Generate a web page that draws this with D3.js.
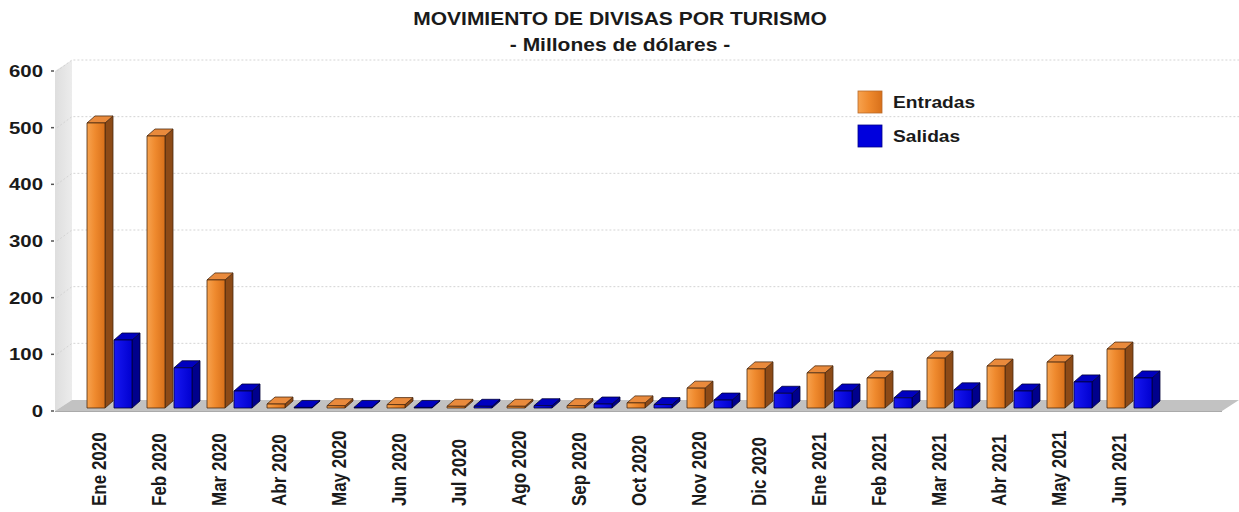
<!DOCTYPE html>
<html>
<head>
<meta charset="utf-8">
<script src="https://cdn.jsdelivr.net/npm/d3@7/dist/d3.min.js"></script>
<style>
  html, body { margin: 0; padding: 0; background: #fff; }
  svg { display: block; }
  text { font-family: "Liberation Sans", Arial, sans-serif; font-weight: bold; fill: #1a1a1a; }
</style>
</head>
<body>
<svg id="chart" width="1239" height="512"></svg>
<script>
// Monthly tourism currency flows, millions of dollars
const months = ["Ene 2020","Feb 2020","Mar 2020","Abr 2020","May 2020","Jun 2020","Jul 2020",
  "Ago 2020","Sep 2020","Oct 2020","Nov 2020","Dic 2020","Ene 2021","Feb 2021","Mar 2021",
  "Abr 2021","May 2021","Jun 2021"];
const entradas = [503, 480, 226, 7, 4, 6, 3, 3, 4, 9, 35, 69, 62, 53, 88, 74, 81, 104];
const salidas  = [120, 71, 30, 1, 1, 1, 3, 4, 7, 6, 14, 26, 30, 18, 32, 30, 46, 53];
const seriesNames = ["Entradas", "Salidas"];
const yTicks = [0, 100, 200, 300, 400, 500, 600];
const titleLines = ["MOVIMIENTO DE DIVISAS POR TURISMO", "- Millones de dólares -"];

const svg = d3.select("#chart");
const SX = 1.2;              // horizontal text stretch
const wall = {dx: 17, dy: -11};
const barDepth = {dx: 8, dy: -7};

// scales: front axis plane, back wall plane, bar front plane
const yFront = d3.scaleLinear().domain([0, 600]).range([411, 71]);
const yBack  = d3.scaleLinear().domain([0, 600]).range([411 + wall.dy, 71 + wall.dy]);
const yBar   = d3.scaleLinear().domain([0, 600]).range([408, 68]);
const x0 = d3.scaleBand().domain(months).range([72, 72 + 60 * months.length]);
const x1 = d3.scaleBand().domain(seriesNames).range([15, 60]).paddingInner(1/3);

const axisLeft = 55, plotRight = 1222;

// gradients
const defs = svg.append("defs");
function lin(id, stops, x2 = "100%", y2 = "0%") {
  const g = defs.append("linearGradient").attr("id", id)
    .attr("x1", "0%").attr("y1", "0%").attr("x2", x2).attr("y2", y2);
  stops.forEach(([o, c]) => g.append("stop").attr("offset", o).attr("stop-color", c));
}
lin("gOrange", [["0%", "#f7a24e"], ["45%", "#ef8a2e"], ["100%", "#d8701a"]]);
lin("gBlue", [["0%", "#1818f2"], ["100%", "#0000d0"]]);
lin("gWall", [["0%", "#dedede"], ["100%", "#ececec"]]);

const style = {
  Entradas: {front: "url(#gOrange)", side: "#8c4a17", top: "#e98a3c", stroke: "#4a2a10"},
  Salidas:  {front: "url(#gBlue)",   side: "#00008c", top: "#0000c0", stroke: "#000038"}
};

// side wall
svg.append("polygon")
  .attr("points", [[axisLeft, yFront(600)], [axisLeft + wall.dx, yBack(600)],
                   [axisLeft + wall.dx, yBack(0)], [axisLeft, yFront(0)]].join(" "))
  .attr("fill", "url(#gWall)");

// grid lines on side and back walls
const grid = svg.append("g").attr("stroke", "#d4d4d4").attr("stroke-width", 1)
  .attr("stroke-dasharray", "2,2").attr("fill", "none");
yTicks.filter(v => v > 0).forEach(v => {
  grid.append("path").attr("d",
    `M${axisLeft + 2},${yFront(v)} L${axisLeft + wall.dx},${yBack(v)} L${plotRight + wall.dx},${yBack(v)}`);
});

// floor
svg.append("polygon")
  .attr("points", [[axisLeft, yFront(0)], [plotRight, yFront(0)],
                   [plotRight + wall.dx, yBack(0)], [axisLeft + wall.dx, yBack(0)]].join(" "))
  .attr("fill", "#c2c2c2");
svg.append("line").attr("x1", axisLeft).attr("x2", plotRight)
  .attr("y1", yFront(0) + 0.5).attr("y2", yFront(0) + 0.5)
  .attr("stroke", "#aaaaaa").attr("stroke-width", 1);

// y axis ticks and labels
const yAxis = svg.append("g");
yTicks.forEach(v => {
  yAxis.append("line").attr("x1", 51).attr("x2", 54)
    .attr("y1", yFront(v)).attr("y2", yFront(v)).attr("stroke", "#555").attr("stroke-width", 1.5);
  yAxis.append("text")
    .attr("transform", `translate(43,${yFront(v) + 6}) scale(${SX},1)`)
    .attr("text-anchor", "end").attr("font-size", 17).text(v);
});

// 3D bars
const rows = months.map((m, i) => ({month: m, Entradas: entradas[i], Salidas: salidas[i]}));
const bars = svg.append("g");
const bw = x1.bandwidth();
rows.forEach(r => {
  seriesNames.forEach(s => {
    const x = x0(r.month) + x1(s);
    const yt = yBar(r[s]), yb = yBar(0);
    const st = style[s];
    const g = bars.append("g").attr("stroke", st.stroke).attr("stroke-width", 0.8)
      .attr("stroke-linejoin", "round");
    g.append("polygon").attr("fill", st.side).attr("points",
      [[x + bw, yt], [x + bw + barDepth.dx, yt + barDepth.dy],
       [x + bw + barDepth.dx, yb + barDepth.dy], [x + bw, yb]].join(" "));
    g.append("polygon").attr("fill", st.top).attr("points",
      [[x, yt], [x + barDepth.dx, yt + barDepth.dy],
       [x + bw + barDepth.dx, yt + barDepth.dy], [x + bw, yt]].join(" "));
    g.append("rect").attr("x", x).attr("y", yt).attr("width", bw)
      .attr("height", Math.max(0.5, yb - yt)).attr("fill", st.front);
  });
});

// x axis labels (rotated)
const xl = svg.append("g");
months.forEach(m => {
  xl.append("text")
    .attr("transform", `translate(${x0(m) + 27},506) scale(${SX},1) rotate(-90)`)
    .attr("dy", "0.35em").attr("text-anchor", "start").attr("font-size", 17).text(m);
});

// title
titleLines.forEach((t, i) => {
  svg.append("text")
    .attr("transform", `translate(620,${25 + i * 26}) scale(${SX},1)`)
    .attr("text-anchor", "middle").attr("font-size", 17.5).text(t);
});

// legend
const legend = svg.append("g");
seriesNames.forEach((s, i) => {
  const y = 91 + i * 34;
  legend.append("rect").attr("x", 858).attr("y", y).attr("width", 24).attr("height", 22)
    .attr("fill", s === "Entradas" ? "url(#gOrange)" : "#0000dd")
    .attr("stroke", s === "Entradas" ? "#b86a2a" : "#00008a").attr("stroke-width", 0.8);
  legend.append("text")
    .attr("transform", `translate(893,${y + 17}) scale(1.13,1)`)
    .attr("font-size", 17).text(s);
});
</script>
</body>
</html>
